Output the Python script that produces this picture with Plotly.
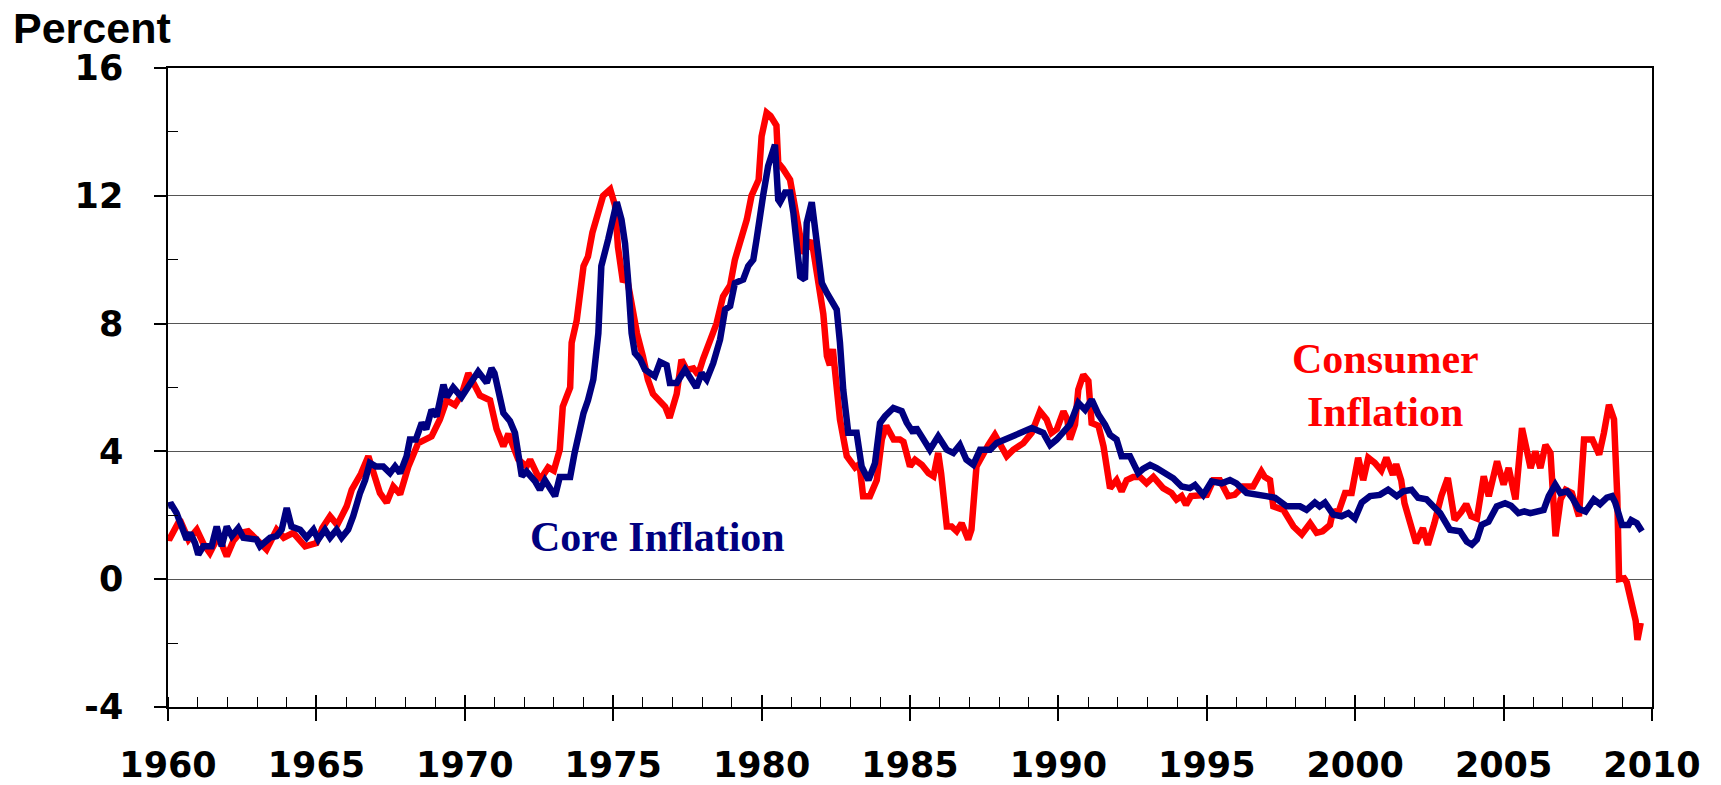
import plotly.graph_objects as go

# ---- Data (decimal year, percent) ----
core_dates = [1960.00, 1960.12, 1960.29, 1960.46, 1960.63, 1960.75, 1960.91, 1961.02, 1961.19, 1961.47,
              1961.64, 1961.81, 1961.98, 1962.15, 1962.37, 1962.54, 1962.98, 1963.10, 1963.44, 1963.66,
              1963.83, 1964.00, 1964.16, 1964.45, 1964.67, 1964.90, 1965.06, 1965.29, 1965.46, 1965.68,
              1965.85, 1966.07, 1966.24, 1966.47, 1966.64, 1966.80, 1967.00, 1967.25, 1967.48, 1967.65,
              1967.82, 1968.04, 1968.15, 1968.35, 1968.55, 1968.70, 1968.88, 1969.05, 1969.28, 1969.40,
              1969.61, 1969.89, 1970.12, 1970.45, 1970.74, 1970.90, 1971.00, 1971.30, 1971.52, 1971.69,
              1971.92, 1972.08, 1972.37, 1972.53, 1972.70, 1973.04, 1973.20, 1973.55, 1973.70, 1973.88,
              1974.00, 1974.15, 1974.33, 1974.50, 1974.60, 1974.83, 1975.00, 1975.12, 1975.28, 1975.40,
              1975.50, 1975.62, 1975.73, 1975.90, 1976.07, 1976.24, 1976.40, 1976.58, 1976.80, 1976.91,
              1977.14, 1977.42, 1977.60, 1977.80, 1977.98, 1978.15, 1978.37, 1978.60, 1978.77, 1978.94,
              1979.10, 1979.38, 1979.55, 1979.72, 1979.83, 1979.94, 1980.05, 1980.22, 1980.45, 1980.56,
              1980.62, 1980.79, 1980.96, 1981.07, 1981.18, 1981.30, 1981.46, 1981.52, 1981.69, 1981.86,
              1982.03, 1982.20, 1982.36, 1982.53, 1982.64, 1982.75, 1982.92, 1983.20, 1983.37, 1983.60,
              1983.82, 1983.99, 1984.16, 1984.44, 1984.72, 1984.89, 1985.11, 1985.20, 1985.39, 1985.67,
              1985.95, 1986.24, 1986.46, 1986.68, 1986.90, 1987.13, 1987.36, 1987.70, 1987.92, 1988.26,
              1988.54, 1988.76, 1989.10, 1989.49, 1989.72, 1989.94, 1990.17, 1990.39, 1990.67, 1990.90,
              1991.12, 1991.35, 1991.57, 1991.74, 1991.96, 1992.13, 1992.41, 1992.69, 1992.85, 1993.09,
              1993.31, 1993.65, 1993.87, 1994.15, 1994.43, 1994.60, 1994.88, 1995.16, 1995.50, 1995.78,
              1996.00, 1996.34, 1996.79, 1997.00, 1997.30, 1997.69, 1998.14, 1998.36, 1998.64, 1998.80,
              1998.98, 1999.26, 1999.54, 1999.77, 1999.99, 2000.22, 2000.50, 2000.83, 2001.11, 2001.40,
              2001.62, 2001.90, 2002.12, 2002.40, 2002.63, 2002.86, 2003.19, 2003.53, 2003.76, 2003.93,
              2004.10, 2004.26, 2004.49, 2004.77, 2005.05, 2005.25, 2005.50, 2005.70, 2005.90, 2006.10,
              2006.35, 2006.52, 2006.74, 2006.91, 2007.14, 2007.31, 2007.53, 2007.76, 2008.04, 2008.25,
              2008.48, 2008.65, 2008.76, 2008.99, 2009.21, 2009.30, 2009.49, 2009.66]
core_values = [2.30, 2.33, 2.07, 1.65, 1.24, 1.45, 1.13, 0.77, 1.03, 1.03,
               1.65, 1.03, 1.65, 1.35, 1.60, 1.30, 1.24, 1.03, 1.30, 1.35,
               1.55, 2.23, 1.65, 1.55, 1.30, 1.55, 1.24, 1.55, 1.30, 1.55,
               1.30, 1.55, 1.97, 2.70, 3.10, 3.64, 3.53, 3.53, 3.32, 3.53,
               3.32, 3.85, 4.37, 4.37, 4.89, 4.70, 5.30, 5.10, 6.09, 5.70,
               6.00, 5.70, 6.00, 6.50, 6.15, 6.60, 6.45, 5.20, 4.95, 4.58,
               3.22, 3.37, 3.06, 2.80, 3.10, 2.60, 3.20, 3.20, 3.95, 4.80,
               5.20, 5.60, 6.25, 7.70, 9.80, 10.63, 11.47, 11.80, 11.25, 10.50,
               9.38, 7.70, 7.08, 6.90, 6.56, 6.45, 6.35, 6.80, 6.70, 6.14,
               6.14, 6.56, 6.25, 6.00, 6.45, 6.25, 6.76, 7.50, 8.44, 8.55,
               9.27, 9.38, 9.80, 10.00, 10.63, 11.47, 12.00, 12.93, 13.60, 11.88,
               11.80, 12.10, 12.10, 11.47, 10.63, 9.48, 9.38, 11.15, 11.80, 10.42,
               9.27, 8.96, 8.75, 8.44, 7.40, 5.93, 4.58, 4.58, 3.53, 3.10,
               3.63, 4.89, 5.10, 5.36, 5.26, 4.90, 4.58, 4.75, 4.47, 4.05,
               4.47, 4.05, 3.95, 4.20, 3.74, 3.58, 4.05, 4.05, 4.26, 4.40,
               4.52, 4.63, 4.73, 4.58, 4.20, 4.37, 4.58, 4.84, 5.52, 5.30,
               5.62, 5.15, 4.84, 4.52, 4.37, 3.85, 3.85, 3.32, 3.45, 3.58,
               3.48, 3.27, 3.16, 2.90, 2.85, 2.95, 2.64, 3.06, 3.00, 3.10,
               3.00, 2.70, 2.60, 2.60, 2.55, 2.28, 2.28, 2.17, 2.40, 2.28,
               2.40, 2.02, 1.97, 2.07, 1.90, 2.40, 2.60, 2.64, 2.80, 2.60,
               2.75, 2.80, 2.55, 2.50, 2.28, 2.07, 1.55, 1.50, 1.18, 1.08,
               1.24, 1.70, 1.80, 2.28, 2.38, 2.30, 2.07, 2.12, 2.07, 2.10,
               2.17, 2.60, 2.96, 2.70, 2.75, 2.55, 2.20, 2.12, 2.50, 2.35,
               2.55, 2.60, 2.40, 1.70, 1.70, 1.85, 1.75, 1.50]

cpi_dates = [1960.00, 1960.07, 1960.40, 1960.69, 1960.97, 1961.20, 1961.41, 1961.70, 1961.98, 1962.20,
             1962.43, 1962.70, 1962.99, 1963.32, 1963.66, 1963.90, 1964.22, 1964.62, 1965.00, 1965.20,
             1965.46, 1965.70, 1966.02, 1966.19, 1966.50, 1966.75, 1967.14, 1967.37, 1967.59, 1967.82,
             1968.10, 1968.43, 1968.88, 1969.16, 1969.39, 1969.67, 1969.90, 1970.12, 1970.51, 1970.85,
             1971.07, 1971.30, 1971.47, 1971.80, 1972.08, 1972.20, 1972.53, 1972.81, 1973.00, 1973.20,
             1973.30, 1973.55, 1973.60, 1973.77, 1974.00, 1974.15, 1974.30, 1974.50, 1974.66, 1974.90,
             1975.06, 1975.16, 1975.33, 1975.45, 1975.80, 1976.00, 1976.17, 1976.34, 1976.57, 1976.75,
             1976.90, 1977.14, 1977.30, 1977.48, 1977.70, 1977.86, 1978.03, 1978.30, 1978.48, 1978.70,
             1978.94, 1979.10, 1979.27, 1979.50, 1979.66, 1979.90, 1980.00, 1980.17, 1980.30, 1980.50,
             1980.56, 1980.72, 1980.96, 1981.06, 1981.18, 1981.40, 1981.69, 1981.80, 1981.97, 1982.08,
             1982.20, 1982.30, 1982.40, 1982.53, 1982.64, 1982.87, 1983.15, 1983.30, 1983.42, 1983.65,
             1983.88, 1984.05, 1984.20, 1984.45, 1984.66, 1984.78, 1985.00, 1985.17, 1985.40, 1985.62,
             1985.79, 1985.95, 1986.05, 1986.24, 1986.40, 1986.57, 1986.74, 1986.96, 1987.07, 1987.24,
             1987.41, 1987.64, 1987.86, 1988.03, 1988.26, 1988.48, 1988.82, 1989.10, 1989.38, 1989.60,
             1989.77, 1989.95, 1990.17, 1990.30, 1990.39, 1990.56, 1990.67, 1990.84, 1991.01, 1991.12,
             1991.35, 1991.52, 1991.74, 1991.96, 1992.13, 1992.30, 1992.52, 1992.75, 1992.97, 1993.20,
             1993.53, 1993.81, 1993.98, 1994.15, 1994.30, 1994.47, 1994.77, 1995.00, 1995.22, 1995.44,
             1995.72, 1995.94, 1996.22, 1996.56, 1996.84, 1996.95, 1997.13, 1997.24, 1997.58, 1997.92,
             1998.20, 1998.48, 1998.70, 1998.90, 1999.15, 1999.26, 1999.40, 1999.66, 1999.88, 2000.10,
             2000.27, 2000.44, 2000.66, 2000.88, 2001.05, 2001.27, 2001.38, 2001.55, 2001.66, 2001.83,
             2002.05, 2002.28, 2002.45, 2002.67, 2002.90, 2003.12, 2003.35, 2003.57, 2003.74, 2003.91,
             2004.10, 2004.33, 2004.50, 2004.78, 2005.00, 2005.17, 2005.40, 2005.62, 2005.79, 2005.91,
             2006.07, 2006.24, 2006.41, 2006.58, 2006.75, 2006.92, 2007.09, 2007.30, 2007.54, 2007.71,
             2007.99, 2008.22, 2008.38, 2008.55, 2008.72, 2008.83, 2008.89, 2009.06, 2009.15, 2009.23,
             2009.34, 2009.45, 2009.51, 2009.62]
cpi_values = [1.30, 1.29, 1.86, 1.24, 1.55, 1.10, 0.82, 1.35, 0.72, 1.20,
              1.45, 1.50, 1.24, 0.93, 1.55, 1.30, 1.45, 1.03, 1.13, 1.60,
              1.97, 1.70, 2.28, 2.80, 3.30, 3.85, 2.70, 2.40, 2.90, 2.66,
              3.53, 4.26, 4.47, 5.00, 5.60, 5.45, 5.80, 6.45, 5.75, 5.60,
              4.70, 4.16, 4.55, 3.75, 3.53, 3.74, 3.10, 3.50, 3.40, 4.05,
              5.40, 6.00, 7.40, 8.10, 9.80, 10.10, 10.85, 11.55, 12.00, 12.20,
              11.70, 10.40, 9.30, 9.50, 7.70, 6.98, 6.25, 5.80, 5.60, 5.40,
              5.05, 5.80, 6.87, 6.55, 6.60, 6.40, 6.90, 7.50, 8.00, 8.85,
              9.20, 10.00, 10.50, 11.25, 12.00, 12.50, 13.86, 14.60, 14.50, 14.20,
              13.03, 12.85, 12.50, 12.00, 11.25, 10.20, 10.60, 10.00, 8.85, 8.30,
              6.98, 6.70, 7.20, 5.80, 5.00, 3.85, 3.50, 3.60, 2.60, 2.60,
              3.10, 4.37, 4.80, 4.37, 4.37, 4.30, 3.53, 3.74, 3.58, 3.32,
              3.22, 3.95, 3.30, 1.65, 1.65, 1.50, 1.75, 1.24, 1.55, 3.53,
              3.85, 4.20, 4.52, 4.20, 3.85, 4.05, 4.26, 4.58, 5.25, 5.00,
              4.58, 4.70, 5.25, 5.00, 4.37, 4.84, 5.93, 6.40, 6.20, 4.89,
              4.80, 4.16, 2.85, 3.10, 2.75, 3.10, 3.20, 3.20, 3.00, 3.20,
              2.85, 2.70, 2.49, 2.60, 2.33, 2.60, 2.64, 2.64, 3.10, 3.10,
              2.60, 2.64, 2.90, 2.90, 3.37, 3.20, 3.10, 2.28, 2.17, 1.65,
              1.40, 1.75, 1.45, 1.50, 1.70, 2.17, 2.00, 2.70, 2.70, 3.80,
              3.10, 3.80, 3.64, 3.40, 3.80, 3.27, 3.60, 3.10, 2.38, 1.76,
              1.13, 1.60, 1.08, 1.76, 2.60, 3.17, 1.86, 2.10, 2.35, 1.97,
              1.90, 3.22, 2.60, 3.69, 2.96, 3.48, 2.50, 4.73, 4.05, 3.48,
              4.00, 3.48, 4.20, 3.95, 1.34, 2.50, 2.80, 2.70, 1.97, 4.37,
              4.37, 3.90, 4.58, 5.46, 5.00, 2.60, 0.00, 0.03, -0.10, -0.43,
              -1.06, -1.30, -1.90, -1.37]

y_tickvals = [-4, 0, 4, 8, 12, 16]
y_ticktext = ["-4", "0", "4", "8", "12", "16"]
x_tickvals = [1960, 1965, 1970, 1975, 1980, 1985, 1990, 1995, 2000, 2005, 2010]
x_ticktext = ["1960", "1965", "1970", "1975", "1980", "1985", "1990", "1995", "2000", "2005", "2010"]

RED = "#FF0000"
NAVY = "#000080"
TICKFONT = dict(family="DejaVu Sans", size=35, color="black", weight="bold")
LABELFONT = "Liberation Serif"

fig = go.Figure()
fig.add_trace(go.Scatter(x=cpi_dates, y=cpi_values, mode="lines",
                         line=dict(color=RED, width=6.5), name="Consumer Inflation",
                         showlegend=False, hoverinfo="skip"))
fig.add_trace(go.Scatter(x=core_dates, y=core_values, mode="lines",
                         line=dict(color=NAVY, width=6.5), name="Core Inflation",
                         showlegend=False, hoverinfo="skip"))
# invisible trace to activate the overlay axis used for inner part of major ticks
fig.add_trace(go.Scatter(x=[x_tickvals[0]], y=[y_tickvals[0]], xaxis="x2", mode="markers",
                         marker=dict(opacity=0), showlegend=False, hoverinfo="skip"))

fig.update_layout(
    width=1721, height=785,
    margin=dict(l=168, r=69, t=68, b=78),
    plot_bgcolor="white", paper_bgcolor="white",
    xaxis=dict(range=[1960, 2010], tickmode="array", tickvals=x_tickvals, ticktext=x_ticktext,
               ticks="outside", ticklen=12, tickwidth=1.5, tickcolor="black",
               showline=True, linecolor="black", linewidth=1.5, mirror=True,
               showgrid=False, zeroline=False, tickfont=TICKFONT, ticklabelstandoff=14,
               automargin=False,
               minor=dict(tickmode="linear", tick0=1960, dtick=1, ticks="inside", ticklen=10,
                          tickwidth=1.2, tickcolor="black", showgrid=False)),
    xaxis2=dict(range=[1960, 2010], overlaying="x", anchor="y", side="bottom",
                tickmode="array", tickvals=x_tickvals, ticks="inside", ticklen=12,
                tickwidth=1.5, tickcolor="black", showticklabels=False, automargin=False,
                showline=False, showgrid=False, zeroline=False),
    yaxis=dict(range=[-4, 16], tickmode="array", tickvals=y_tickvals, ticktext=y_ticktext,
               ticks="outside", ticklen=12, tickwidth=1.5, tickcolor="black",
               showline=True, linecolor="black", linewidth=1.5, mirror=True,
               showgrid=True, gridcolor="#555555", gridwidth=1.3, zeroline=False,
               tickfont=TICKFONT, ticklabelstandoff=24, automargin=False,
               minor=dict(tickmode="array", tickvals=[-2, 2, 6, 10, 14], ticks="inside",
                          ticklen=10, tickwidth=1.2, tickcolor="black", showgrid=False)),
)

fig.add_annotation(text="Percent", xref="paper", yref="paper",
                   x=-0.106, y=1.104, xanchor="left", yanchor="top", showarrow=False,
                   font=dict(family="Liberation Sans", size=43, color="black", weight="bold"))
fig.add_annotation(text="Core Inflation", x=1976.49, y=1.32, xanchor="center", yanchor="middle",
                   showarrow=False,
                   font=dict(family=LABELFONT, size=42, color=NAVY, weight="bold"))
fig.add_annotation(text="Consumer", x=2001.03, y=6.88, xanchor="center", yanchor="middle",
                   showarrow=False,
                   font=dict(family=LABELFONT, size=42, color=RED, weight="bold"))
fig.add_annotation(text="Inflation", x=2001.0, y=5.22, xanchor="center", yanchor="middle",
                   showarrow=False,
                   font=dict(family=LABELFONT, size=42, color=RED, weight="bold"))

fig.write_html("out.html", config={"displayModeBar": False},
               post_script="document.body.style.margin='0';")
